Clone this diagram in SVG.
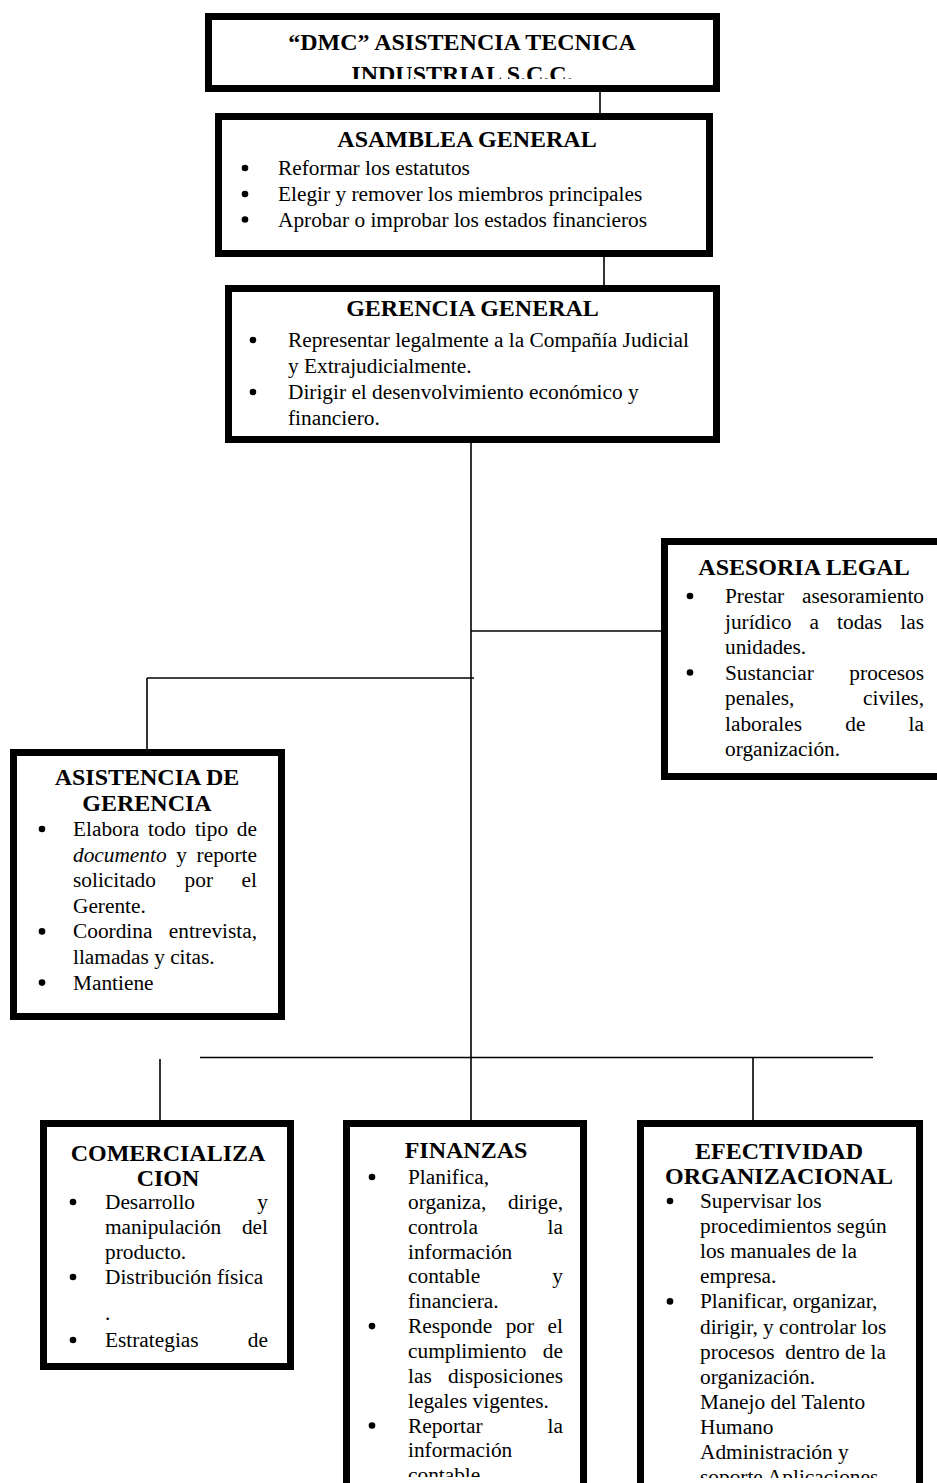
<svg xmlns="http://www.w3.org/2000/svg" width="937" height="1483" viewBox="0 0 937 1483">
<style>
text{font-family:"Liberation Serif","Times New Roman",serif;fill:#000}
.b{font-size:21.33px}
.h{font-size:24px;font-weight:bold;text-anchor:middle}
.e{text-anchor:end}
.i{font-style:italic}
.box{fill:#fff;stroke:#000;stroke-width:7}
.c{stroke:#000;stroke-width:1.6;fill:none}
.dot{fill:#000}
</style>
<defs>
<clipPath id="clipTop"><rect x="205" y="13" width="515" height="66"/></clipPath>
<clipPath id="clipFin"><rect x="343" y="1120" width="244" height="357"/></clipPath>
<clipPath id="clipEfe"><rect x="637" y="1120" width="286" height="358"/></clipPath>
</defs>
<rect width="937" height="1483" fill="#fff"/>

<g id="connectors">
<line class="c" x1="600" y1="90" x2="600" y2="115"/>
<line class="c" x1="604" y1="255" x2="604" y2="287"/>
<line class="c" x1="471" y1="441" x2="471" y2="1122"/>
<line class="c" x1="471" y1="631" x2="663" y2="631"/>
<line class="c" x1="147" y1="678" x2="474" y2="678"/>
<line class="c" x1="147" y1="678" x2="147" y2="751"/>
<line class="c" x1="200" y1="1057.5" x2="873" y2="1057.5"/>
<line class="c" x1="160" y1="1059" x2="160" y2="1122"/>
<line class="c" x1="753" y1="1057.5" x2="753" y2="1122"/>
</g>

<g id="dmc">
<rect class="box" x="208.5" y="16.5" width="508" height="72"/>
<text class="h" x="462" y="50">“DMC” ASISTENCIA TECNICA</text>
<text class="h" x="462" y="81.5" clip-path="url(#clipTop)">INDUSTRIAL S.C.C.</text>
</g>

<g id="asamblea">
<rect class="box" x="218.5" y="116.5" width="491" height="137"/>
<text class="h" x="467" y="147">ASAMBLEA GENERAL</text>
<circle class="dot" cx="245" cy="168" r="3.3"/><text class="b" x="278" y="175">Reformar los estatutos</text>
<circle class="dot" cx="245" cy="194" r="3.3"/><text class="b" x="278" y="201">Elegir y remover los miembros principales</text>
<circle class="dot" cx="245" cy="219.5" r="3.3"/><text class="b" x="278" y="226.5">Aprobar o improbar los estados financieros</text>
</g>

<g id="gerencia">
<rect class="box" x="228.5" y="288.5" width="488" height="151"/>
<text class="h" x="472.5" y="316">GERENCIA GENERAL</text>
<circle class="dot" cx="253" cy="340" r="3.3"/><text class="b" x="288" y="347">Representar legalmente a la Compañía Judicial</text>
<text class="b" x="288" y="373">y Extrajudicialmente.</text>
<circle class="dot" cx="253" cy="392" r="3.3"/><text class="b" x="288" y="399">Dirigir el desenvolvimiento económico y</text>
<text class="b" x="288" y="425">financiero.</text>
</g>

<g id="asesoria">
<rect class="box" x="664.5" y="541.5" width="300" height="235"/>
<text class="h" x="804" y="575">ASESORIA LEGAL</text>
<circle class="dot" cx="690" cy="596" r="3.3"/>
<text class="b" x="725" y="603">Prestar</text><text class="b e" x="924" y="603">asesoramiento</text>
<text class="b" y="628.5"><tspan x="725">jurídico</tspan><tspan x="809.5">a</tspan><tspan x="837.1">todas</tspan></text><text class="b e" x="924" y="628.5">las</text>
<text class="b" x="725" y="654">unidades.</text>
<circle class="dot" cx="690" cy="672.5" r="3.3"/>
<text class="b" x="725" y="679.5">Sustanciar</text><text class="b e" x="924" y="679.5">procesos</text>
<text class="b" x="725" y="705">penales,</text><text class="b e" x="924" y="705">civiles,</text>
<text class="b" y="730.5"><tspan x="725">laborales</tspan><tspan x="845.3">de</tspan></text><text class="b e" x="924" y="730.5">la</text>
<text class="b" x="725" y="756">organización.</text>
</g>

<g id="asistencia">
<rect class="box" x="13.5" y="752.5" width="268" height="264"/>
<text class="h" x="147" y="785">ASISTENCIA DE</text>
<text class="h" x="147" y="811">GERENCIA</text>
<circle class="dot" cx="42" cy="829" r="3.3"/>
<text class="b" y="836"><tspan x="73">Elabora</tspan><tspan x="148.1">todo</tspan><tspan x="194.9">tipo</tspan></text><text class="b e" x="257" y="836">de</text>
<text class="b" y="861.6"><tspan x="73" class="i">documento</tspan><tspan x="176.3">y</tspan></text><text class="b e" x="257" y="861.6">reporte</text>
<text class="b" y="887.2"><tspan x="73">solicitado</tspan><tspan x="184.6">por</tspan></text><text class="b e" x="257" y="887.2">el</text>
<text class="b" x="73" y="912.8">Gerente.</text>
<circle class="dot" cx="42" cy="931.4" r="3.3"/>
<text class="b" x="73" y="938.4">Coordina</text><text class="b e" x="257" y="938.4">entrevista,</text>
<text class="b" x="73" y="964">llamadas y citas.</text>
<circle class="dot" cx="42" cy="982.6" r="3.3"/><text class="b" x="73" y="989.6">Mantiene</text>
</g>

<g id="comercializacion">
<rect class="box" x="43.5" y="1123.5" width="247" height="243"/>
<text class="h" x="168" y="1161">COMERCIALIZA</text>
<text class="h" x="168" y="1186">CION</text>
<circle class="dot" cx="73" cy="1202" r="3.3"/>
<text class="b" x="105" y="1209">Desarrollo</text><text class="b e" x="268" y="1209">y</text>
<text class="b" x="105" y="1234">manipulación</text><text class="b e" x="268" y="1234">del</text>
<text class="b" x="105" y="1259">producto.</text>
<circle class="dot" cx="73" cy="1277" r="3.3"/><text class="b" x="105" y="1284">Distribución física</text>
<text class="b" x="105" y="1320">.</text>
<circle class="dot" cx="73" cy="1340" r="3.3"/>
<text class="b" x="105" y="1347">Estrategias</text><text class="b e" x="268" y="1347">de</text>
</g>

<g id="finanzas">
<rect class="box" x="346.5" y="1123.5" width="237" height="400"/>
<text class="h" x="466" y="1158">FINANZAS</text>
<g clip-path="url(#clipFin)">
<circle class="dot" cx="372" cy="1177" r="3.3"/><text class="b" x="408" y="1184">Planifica,</text>
<text class="b" x="408" y="1208.85">organiza,</text><text class="b e" x="563" y="1208.85">dirige,</text>
<text class="b" x="408" y="1233.7">controla</text><text class="b e" x="563" y="1233.7">la</text>
<text class="b" x="408" y="1258.55">información</text>
<text class="b" x="408" y="1283.4">contable</text><text class="b e" x="563" y="1283.4">y</text>
<text class="b" x="408" y="1308.25">financiera.</text>
<circle class="dot" cx="372" cy="1326.1" r="3.3"/>
<text class="b" y="1333.1"><tspan x="408">Responde</tspan><tspan x="505.7">por</tspan></text><text class="b e" x="563" y="1333.1">el</text>
<text class="b" x="408" y="1357.95">cumplimiento</text><text class="b e" x="563" y="1357.95">de</text>
<text class="b" x="408" y="1382.8">las</text><text class="b e" x="563" y="1382.8">disposiciones</text>
<text class="b" x="408" y="1407.65">legales vigentes.</text>
<circle class="dot" cx="372" cy="1425.5" r="3.3"/>
<text class="b" x="408" y="1432.5">Reportar</text><text class="b e" x="563" y="1432.5">la</text>
<text class="b" x="408" y="1457.35">información</text>
<text class="b" x="408" y="1482.2">contable.</text>
</g>
</g>

<g id="efectividad">
<rect class="box" x="640.5" y="1123.5" width="279" height="400"/>
<text class="h" x="779" y="1159">EFECTIVIDAD</text>
<text class="h" x="779" y="1184">ORGANIZACIONAL</text>
<g clip-path="url(#clipEfe)">
<circle class="dot" cx="670" cy="1201" r="3.3"/><text class="b" x="700" y="1208">Supervisar los</text>
<text class="b" x="700" y="1233.1">procedimientos según</text>
<text class="b" x="700" y="1258.2">los manuales de la</text>
<text class="b" x="700" y="1283.3">empresa.</text>
<circle class="dot" cx="670" cy="1301.4" r="3.3"/><text class="b" x="700" y="1308.4">Planificar, organizar,</text>
<text class="b" x="700" y="1333.5">dirigir, y controlar los</text>
<text class="b" x="700" y="1358.6" xml:space="preserve">procesos  dentro de la</text>
<text class="b" x="700" y="1383.7">organización.</text>
<text class="b" x="700" y="1408.8">Manejo del Talento</text>
<text class="b" x="700" y="1433.9">Humano</text>
<text class="b" x="700" y="1459">Administración y</text>
<text class="b" x="700" y="1484.1">soporte Aplicaciones</text>
</g>
</g>
</svg>
